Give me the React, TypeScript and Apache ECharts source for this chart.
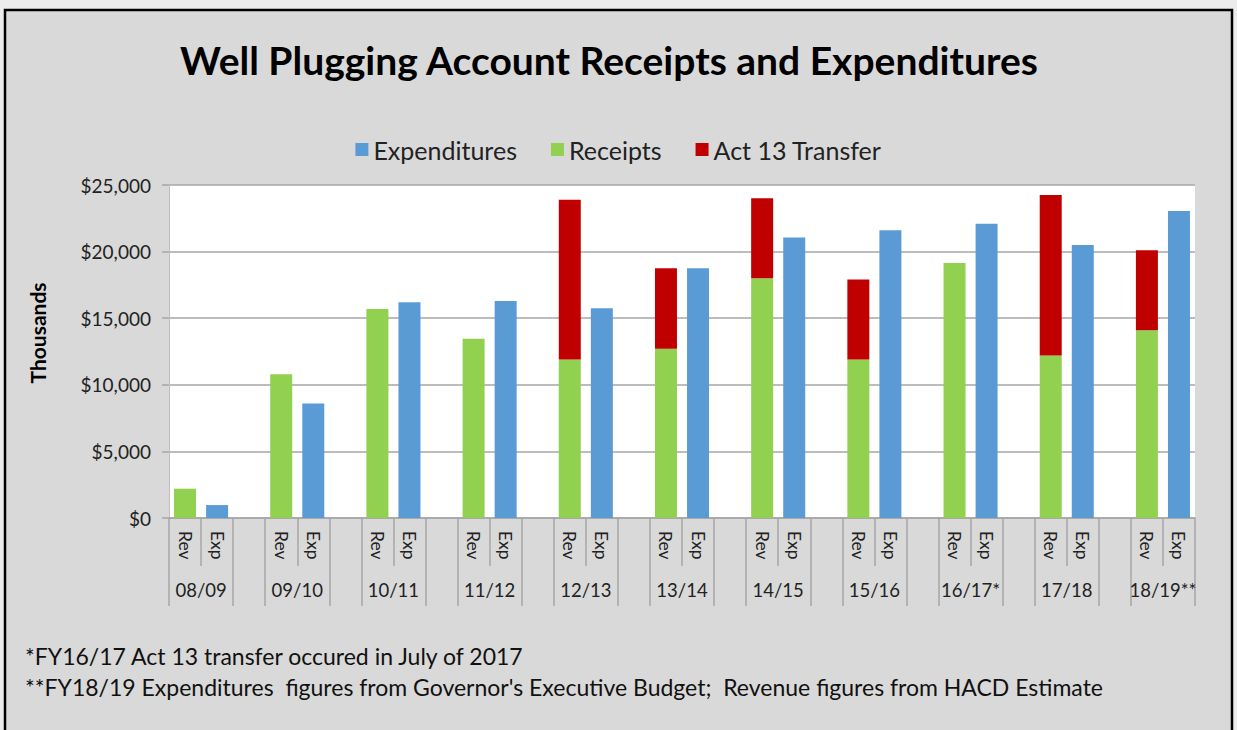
import React, { useEffect, useRef } from "react";
import * as echarts from "echarts";

const years = ["08/09", "09/10", "10/11", "11/12", "12/13", "13/14", "14/15", "15/16", "16/17*", "17/18", "18/19**"];
const receipts = [2200, 10800, 15700, 13450, 11900, 12700, 18000, 11900, 19150, 12200, 14100];
const act13 = [0, 0, 0, 0, 12000, 6050, 6000, 6000, 0, 12050, 6000];
const expenditures = [970, 8600, 16200, 16300, 15750, 18750, 21050, 21600, 22100, 20500, 23050];
const slotLabels = ["Rev", "Exp", ""];
const yTicks = { min: 0, max: 25000, interval: 5000 };
const footnotes = [
  "*FY16/17 Act 13 transfer occured in July of 2017",
  "**FY18/19 Expenditures  figures from Governor's Executive Budget;  Revenue figures from HACD Estimate",
];

const FONT = "Lato, 'Open Sans', sans-serif";

export default function App() {
  const ref = useRef<HTMLDivElement>(null);
  useEffect(() => {
    if (!ref.current) return;
    const chart = echarts.init(ref.current, undefined, { renderer: "svg" });
    const nSlots = years.length * 3 - 1;
    const cats: string[] = [];
    for (let i = 0; i < nSlots; i++) cats.push(slotLabels[i % 3]);
    const recData: (number | null)[] = cats.map(() => null);
    const actData: (number | null)[] = cats.map(() => null);
    const expData: (number | null)[] = cats.map(() => null);
    years.forEach((_, k) => {
      recData[3 * k] = receipts[k];
      actData[3 * k] = act13[k] || null;
      expData[3 * k + 1] = expenditures[k];
    });
    const groupTicks: number[] = [];
    const groupLabels: number[] = [];
    years.forEach((_, k) => {
      groupTicks.push(3 * k, 3 * k + 2);
      groupLabels.push(3 * k + 1);
    });

    chart.setOption({
      animation: false,
      backgroundColor: "#ececec",
      textStyle: { fontFamily: FONT },
      graphic: [
        {
          type: "rect",
          z: -10,
          shape: { x: 5, y: 10, width: 1227, height: 730 },
          style: { fill: "#D9D9D9", stroke: "#000", lineWidth: 2.5 },
        },
        {
          type: "text",
          x: 609,
          y: 60,
          style: {
            text: "Well Plugging Account Receipts and Expenditures",
            fontSize: 39,
            fontWeight: "bold",
            fontFamily: FONT,
            fill: "#000",
            align: "center",
            verticalAlign: "middle",
          },
        },
        {
          type: "text",
          x: 37,
          y: 333,
          rotation: Math.PI / 2,
          style: {
            text: "Thousands",
            fontSize: 21,
            fontWeight: "bold",
            fontFamily: FONT,
            fill: "#000",
            align: "center",
            verticalAlign: "middle",
          },
        },
        ...footnotes.map((t, i) => ({
          type: "text",
          x: 25,
          y: 656 + i * 31,
          style: { text: t, fontSize: 23, fontFamily: FONT, fill: "#111", verticalAlign: "middle" },
        })),
      ],
      legend: {
        top: 132,
        left: "center",
        itemWidth: 13,
        itemHeight: 13,
        itemGap: 34,
        icon: "rect",
        textStyle: { fontSize: 25, color: "#222", fontFamily: FONT },
        data: ["Expenditures", "Receipts", "Act 13 Transfer"],
      },
      grid: {
        left: 169,
        right: 42,
        top: 185,
        bottom: 212,
        show: true,
        backgroundColor: "#fff",
        borderWidth: 0,
      },
      xAxis: [
        {
          type: "category",
          data: cats,
          axisLine: { show: true, lineStyle: { color: "#A6A6A6", width: 1.5 } },
          axisTick: { show: true, interval: 0, length: 48, lineStyle: { color: "#A6A6A6", width: 1.5 } },
          axisLabel: { interval: 0, rotate: -90, fontSize: 17.5, color: "#222", margin: 13, fontFamily: FONT },
        },
        {
          type: "value",
          min: 0,
          max: nSlots,
          position: "bottom",
          offset: 48,
          axisLine: { show: false },
          splitLine: { show: false },
          axisTick: { show: true, customValues: groupTicks, length: 40, lineStyle: { color: "#A6A6A6", width: 1.5 } },
          axisLabel: {
            customValues: groupLabels,
            formatter: (v: number) => years[Math.round((v - 1) / 3)] ?? "",
            fontSize: 18.5,
            color: "#222",
            margin: 14,
            fontFamily: FONT,
          },
        },
      ],
      yAxis: {
        type: "value",
        min: yTicks.min,
        max: yTicks.max,
        interval: yTicks.interval,
        axisLine: { show: true, lineStyle: { color: "#BFBFBF", width: 1 } },
        axisTick: { show: true, length: 7, lineStyle: { color: "#A6A6A6", width: 1.5 } },
        splitLine: { lineStyle: { color: "#A6A6A6", width: 1.5 } },
        axisLabel: {
          fontSize: 19,
          color: "#222",
          margin: 18,
          fontFamily: FONT,
          formatter: (v: number) => "$" + v.toLocaleString("en-US"),
        },
      },
      series: [
        {
          name: "Expenditures",
          type: "bar",
          data: expData,
          barWidth: 22,
          barGap: "-100%",
          itemStyle: { color: "#5B9BD5" },
        },
        {
          name: "Receipts",
          type: "bar",
          stack: "rev",
          data: recData,
          barWidth: 22,
          itemStyle: { color: "#92D050" },
        },
        {
          name: "Act 13 Transfer",
          type: "bar",
          stack: "rev",
          data: actData,
          barWidth: 22,
          itemStyle: { color: "#C00000" },
        },
      ],
    });
    return () => chart.dispose();
  }, []);
  return (
    <div style={{ position: "fixed", left: 0, top: 0, width: 1237, height: 730 }}>
      <div ref={ref} style={{ width: 1237, height: 730 }} />
    </div>
  );
}
